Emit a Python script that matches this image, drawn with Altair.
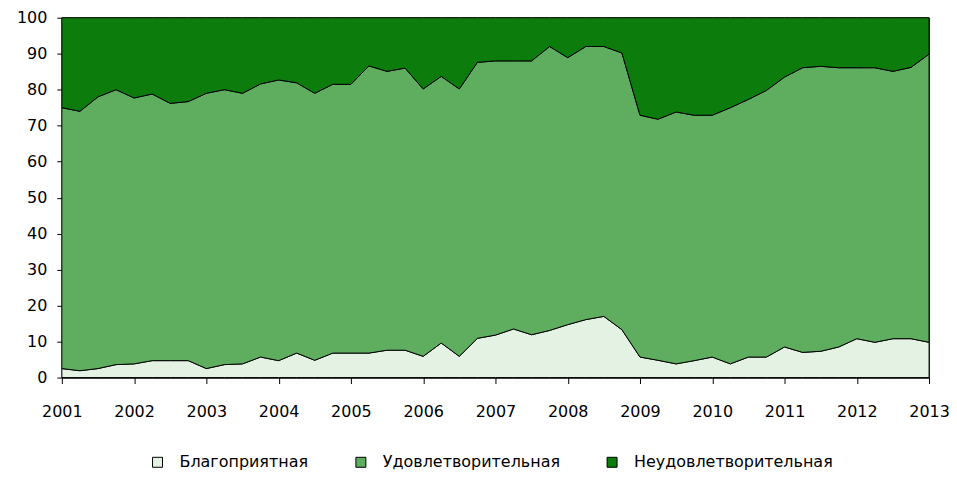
import altair as alt
import pandas as pd

# Quarterly data, 2001Q1 .. 2013Q1
categories = ["Благоприятная", "Удовлетворительная", "Неудовлетворительная"]

favourable = [2.5, 1.9, 2.5, 3.6,
              3.8, 4.7, 4.7, 4.7,
              2.5, 3.6, 3.8, 5.7,
              4.7, 6.8, 4.8, 6.8,
              6.8, 6.8, 7.6, 7.6,
              5.9, 9.6, 5.9, 10.9,
              11.8, 13.5, 11.9, 13.1,
              14.7, 16.1, 17.0, 13.3,
              5.7, 4.8, 3.8, 4.7,
              5.7, 3.8, 5.7, 5.7,
              8.5, 7.0, 7.3, 8.5,
              10.8, 9.8, 10.8, 10.8,
              9.8]

satisfactory = [72.5, 72.1, 75.5, 76.4,
                73.9, 74.1, 71.5, 72.0,
                76.5, 76.4, 75.2, 75.9,
                78.0, 75.1, 74.2, 74.7,
                74.7, 79.8, 77.5, 78.4,
                74.3, 74.1, 74.3, 76.7,
                76.2, 74.5, 76.1, 78.9,
                74.2, 75.9, 75.0, 76.9,
                67.2, 67.0, 70.0, 68.2,
                67.2, 71.2, 71.6, 74.1,
                75.0, 79.1, 79.2, 77.6,
                75.3, 76.3, 74.3, 75.4,
                80.1]

unsatisfactory = [25.0, 26.0, 22.0, 20.0,
                  22.3, 21.2, 23.8, 23.3,
                  21.0, 20.0, 21.0, 18.4,
                  17.3, 18.1, 21.0, 18.5,
                  18.5, 13.4, 14.9, 14.0,
                  19.8, 16.3, 19.8, 12.4,
                  12.0, 12.0, 12.0, 8.0,
                  11.1, 8.0, 8.0, 9.8,
                  27.1, 28.2, 26.2, 27.1,
                  27.1, 25.0, 22.7, 20.2,
                  16.5, 13.9, 13.5, 13.9,
                  13.9, 13.9, 14.9, 13.8,
                  10.1]

years = list(range(2001, 2014))
quarters = [y + q / 4 for y in range(2001, 2013) for q in range(4)] + [2013.0]

series = [favourable, satisfactory, unsatisfactory]
rows = []
for ci, (cat, vals) in enumerate(zip(categories, series)):
    for t, v in zip(quarters, vals):
        rows.append({"t": t, "cat": cat, "val": v, "ord": ci})
df = pd.DataFrame(rows)

colors = ["#e4f2e4", "#5fae5f", "#0c7c0c"]
FONT = "DejaVu Sans"

chart = alt.Chart(df).mark_area(
    stroke="black", strokeWidth=1, interpolate="linear"
).encode(
    x=alt.X("t:Q", scale=alt.Scale(domain=[2001, 2013], nice=False, zero=False),
            axis=alt.Axis(values=years, format="d", title=None, grid=False,
                          labelFont=FONT, labelFontSize=16, labelColor="black",
                          labelPadding=20, tickSize=6, tickColor="black",
                          domainColor="black", labelFlush=False)),
    y=alt.Y("val:Q", stack="zero", scale=alt.Scale(domain=[0, 100], nice=False),
            axis=alt.Axis(values=list(range(0, 101, 10)), title=None, grid=False,
                          labelFont=FONT, labelFontSize=16, labelColor="black",
                          labelPadding=10, tickSize=5, tickColor="black",
                          domainColor="black")),
    color=alt.Color("cat:N", scale=alt.Scale(domain=categories, range=colors),
                    legend=alt.Legend(title=None, orient="none", direction="horizontal",
                                      legendX=88, legendY=438,
                                      symbolType="square", symbolSize=100,
                                      symbolStrokeColor="black", symbolStrokeWidth=1,
                                      labelFont=FONT, labelFontSize=16, labelLimit=400,
                                      labelColor="black", columnPadding=44,
                                      labelOffset=14)),
    order=alt.Order("ord:Q"),
).properties(
    width=870, height=361,
    padding={"left": 54, "top": 9, "right": 20, "bottom": 95},
    autosize="none",
).configure_view(stroke="#333333", strokeWidth=1)

chart.save("out.html", embed_options={"renderer": "svg", "actions": False})
